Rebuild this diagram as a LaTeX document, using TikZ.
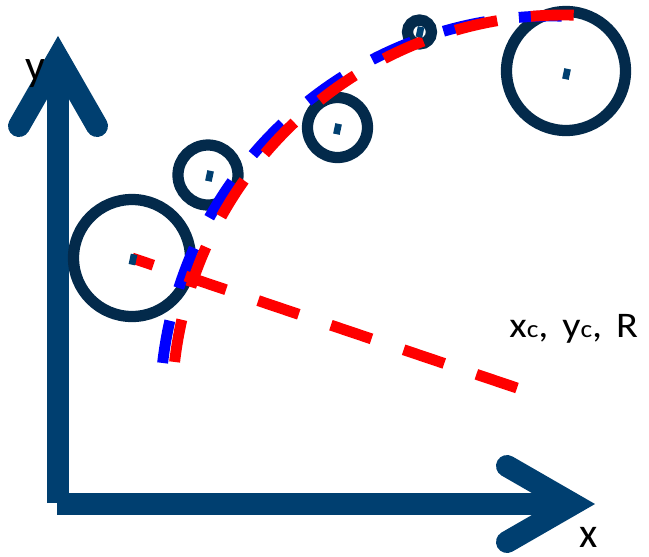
\documentclass[tikz,border=0pt]{standalone}
\usepackage{fontspec}
\setmainfont{Carlito}
\usetikzlibrary{positioning}

\definecolor{axisblue}{RGB}{0,63,112}
\definecolor{ringblue}{RGB}{3,42,75}

\begin{document}
\begin{tikzpicture}[x=0.02cm,y=-0.02cm,
  axis/.style={line width=12.5pt,axisblue},
  head/.style={axis,line cap=round,line join=miter},
  ring/.style={line width=6.4pt,ringblue},
  fitdash/.style={line width=6.2pt,dash pattern=on 24.4pt off 19.3pt},
  cdot/.style={fill=axisblue,inner sep=0pt,minimum width=3.8pt,minimum height=6pt,rotate=-12}]

  \useasboundingbox (0,0) rectangle (649,556);

  % axes
  \coordinate (yfoot) at (58,503);
  \coordinate (ytip)  at (58,58);
  \coordinate (yl)    at (19,126);
  \coordinate (yr)    at (97,126);
  \coordinate (xfoot) at (57,504);
  \coordinate (xtip)  at (573,504);
  \coordinate (xu)    at (507,466);
  \coordinate (xd)    at (507,542);
  \draw[axis] (yfoot) -- (ytip);
  \draw[axis] (xfoot) -- (xtip);
  \draw[head] (yl) -- (ytip) -- (yr);
  \draw[head] (xu) -- (xtip) -- (xd);

  % circles
  \coordinate (c1) at (132,258);
  \coordinate (c2) at (208,175);
  \coordinate (c3) at (337.5,127.5);
  \coordinate (c4) at (419.5,32);
  \coordinate (c5) at (566,71);
  \foreach \c/\r in {c1/58.5,c2/30,c3/30,c4/12,c5/59.5}
    \draw[ring] (\c) circle[radius=\r];

  % fitted arc (blue and red) and radius
  \coordinate (fitb) at (552,408);
  \coordinate (fitr) at (564,407);
  \coordinate (rend) at (517,388);
  \draw[fitdash,blue] (fitb) ++(186.6:392) arc[start angle=186.6,end angle=272,radius=392];
  \draw[fitdash,red]  (fitr) ++(186.6:392) arc[start angle=186.6,end angle=272,radius=392];
  \draw[fitdash,red]  (rend) -- (c1);

  % centre marks
  \node[cdot] (d1) at (133,259.5) {};
  \node[cdot] (d2) at (209.5,176) {};
  \node[cdot] (d3) at (337.5,129) {};
  \node[cdot] (d4) at (420,32) {};
  \node[cdot] (d5) at (566.5,74) {};

  % labels
  \node[anchor=base,font=\fontsize{25}{29}\selectfont] (ylab) at (35,80) {y};
  \node[anchor=base,font=\fontsize{24}{28}\selectfont] (xlab) at (589,547) {x};
  \node[anchor=base west,inner sep=0pt,font=\fontsize{20.5}{24}\selectfont] (fitlab) at (509,337)
    {\scalebox{1.12}[1]{x{\fontsize{14}{16}\selectfont c},\hspace{7pt}y{\fontsize{14}{16}\selectfont c},\hspace{7pt}R}};

\end{tikzpicture}
\end{document}
